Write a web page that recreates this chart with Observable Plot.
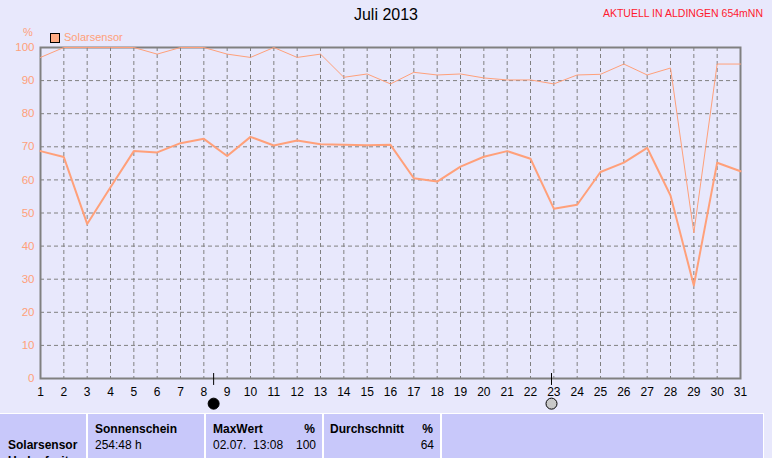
<!DOCTYPE html>
<html>
<head>
<meta charset="utf-8">
<script src="https://cdn.jsdelivr.net/npm/d3@7"></script>
<script src="https://cdn.jsdelivr.net/npm/@observablehq/plot@0.6"></script>
<style>
  html, body { margin: 0; padding: 0; background: #e8e8fc; }
  #wrap { position: relative; width: 772px; height: 458px; overflow: hidden; background: #e8e8fc; font-family: "Liberation Sans", Arial, sans-serif; }
  #chart { position: absolute; left: 0; top: 0; }
  .abs { position: absolute; white-space: nowrap; }
  .cell { position: absolute; top: 414px; height: 60px; background: #c8c8fa; }
  .b { font-weight: bold; font-size: 12px; color: #000; }
  .n { font-size: 12px; color: #000; }
</style>
</head>
<body>
<div id="wrap">
  <div id="chart"></div>
  <div class="abs" style="left:0;width:772px;top:6px;text-align:center;font-size:16px;color:#000;">Juli 2013</div>
  <div class="abs" style="right:9px;top:7px;font-size:10.5px;color:#ff1a2e;">AKTUELL IN ALDINGEN 654mNN</div>
  <div class="abs" style="left:23px;top:26px;font-size:11px;color:#ffa07a;">%</div>
  <div class="abs" style="left:50px;top:33px;width:8px;height:8px;border:1px solid #000;background:#ffab84;"></div>
  <div class="abs" style="left:64px;top:31px;font-size:11px;color:#ffa07a;">Solarsensor</div>

  <div class="abs" style="left:0;top:413px;width:764px;height:45px;background:#ffffff;"></div>
  <div class="cell" style="left:0;width:86px;"></div>
  <div class="cell" style="left:88px;width:116px;"></div>
  <div class="cell" style="left:206px;width:116px;"></div>
  <div class="cell" style="left:324px;width:116px;"></div>
  <div class="cell" style="left:442px;width:321px;"></div>

  <div class="abs b" style="left:8px;top:438px;">Solarsensor</div>
  <div class="abs b" style="left:8px;top:454px;">Umlaufzeit</div>
  <div class="abs b" style="left:95px;top:422px;">Sonnenschein</div>
  <div class="abs n" style="left:95px;top:438px;">254:48 h</div>
  <div class="abs b" style="left:213px;top:422px;">MaxWert</div>
  <div class="abs b" style="right:457px;top:422px;">%</div>
  <div class="abs n" style="left:213px;top:438px;">02.07.&nbsp;&nbsp;13:08</div>
  <div class="abs n" style="right:456px;top:438px;">100</div>
  <div class="abs b" style="left:330px;top:422px;">Durchschnitt</div>
  <div class="abs b" style="right:339px;top:422px;">%</div>
  <div class="abs n" style="right:338px;top:438px;">64</div>
</div>
<script>
const days = [1,2,3,4,5,6,7,8,9,10,11,12,13,14,15,16,17,18,19,20,21,22,23,24,25,26,27,28,29,30,31];
const avgValues = [68.7,66.9,46.7,57.8,68.7,68.3,71.1,72.4,67.2,73.0,70.4,71.9,70.8,70.6,70.5,70.6,60.5,59.5,64.0,67.0,68.7,66.4,51.3,52.5,62.4,65.2,69.7,55.3,28.1,65.2,62.6];
const maxValues = [97,100,100,100,100,98,100,100,98,97,100,97,98,91,92,89,92.5,91.7,92,90.8,90.2,90.2,89,91.7,91.9,95,91.7,93.8,44,95,95];
const yTicks = [0,10,20,30,40,50,60,70,80,90,100];
const gridDays = [2,3,4,5,6,7,8,9,10,11,12,13,14,15,16,17,18,19,20,21,22,23,24,25,26,27,28,29,30];
const gridY = [10,20,30,40,50,60,70,80,90];
const moonDays = [8.42, 22.9];
const moonPhases = ["new", "full"];

const avgData = days.map((d, i) => ({day: d, value: avgValues[i]}));
const maxData = days.map((d, i) => ({day: d, value: maxValues[i]}));
const moonData = moonDays.map((d, i) => ({day: d, phase: moonPhases[i]}));

const chart = Plot.plot({
  width: 772,
  height: 414,
  marginLeft: 40,
  marginRight: 32,
  marginTop: 47,
  marginBottom: 36,
  style: {background: "transparent", fontFamily: "Liberation Sans, Arial, sans-serif", overflow: "visible"},
  x: {domain: [1, 31], type: "linear"},
  y: {domain: [0, 100]},
  marks: [
    Plot.ruleX(gridDays, {stroke: "#808080", strokeDasharray: "4,3", strokeWidth: 1}),
    Plot.ruleY(gridY, {stroke: "#808080", strokeDasharray: "4,3", strokeWidth: 1}),
    Plot.frame({stroke: "#808080", strokeWidth: 2}),
    Plot.line(maxData, {x: "day", y: "value", stroke: "#ffa07a", strokeWidth: 1}),
    Plot.line(avgData, {x: "day", y: "value", stroke: "#ffa07a", strokeWidth: 2}),
    Plot.axisX(days, {tickSize: 0, tickPadding: 9, fontSize: 12, fill: "#000", label: null}),
    Plot.axisY(yTicks, {tickSize: 0, tickPadding: 6, fontSize: 11.5, fill: "#ffa07a", label: null}),
    Plot.ruleX(moonData, {x: "day", y1: -2.1, y2: 1.5, stroke: "#000", strokeWidth: 1, clip: false}),
    Plot.dot(moonData, {x: "day", y: -7.6, r: 5.5, stroke: "#000", strokeWidth: 1,
      fill: d => d.phase === "new" ? "#000" : "#c8c8c8", clip: false})
  ]
});
document.getElementById("chart").appendChild(chart);
</script>
</body>
</html>
